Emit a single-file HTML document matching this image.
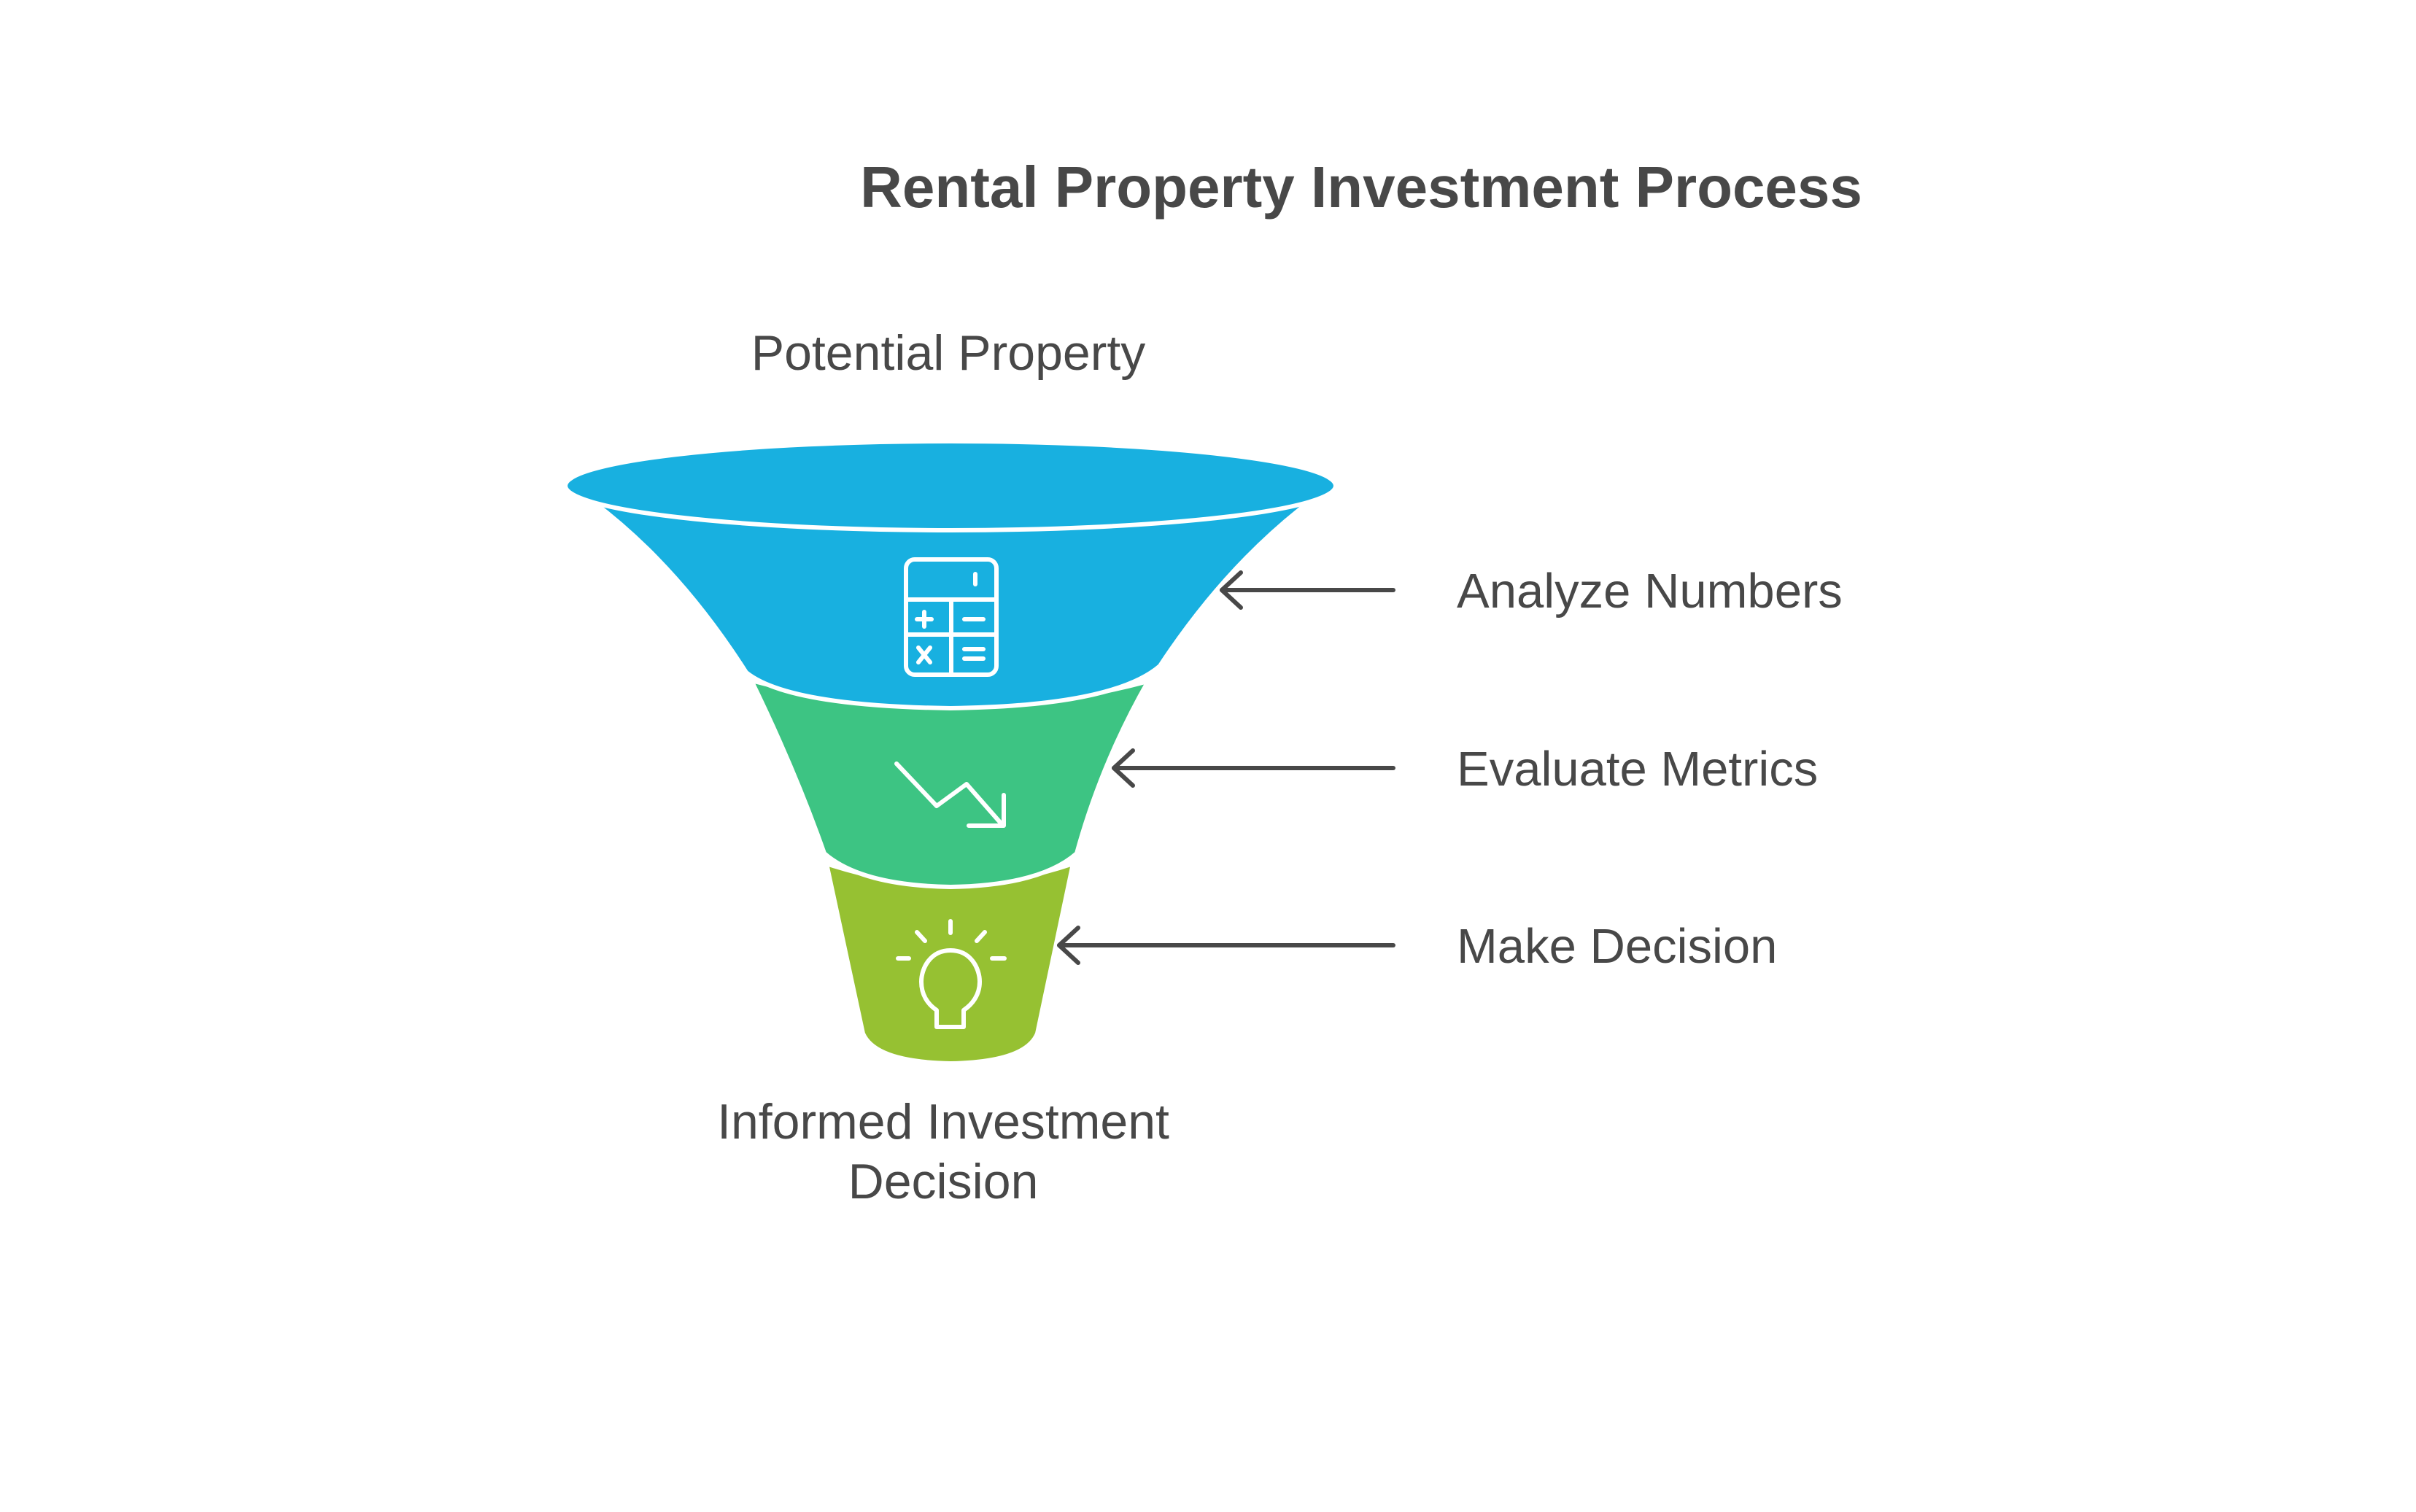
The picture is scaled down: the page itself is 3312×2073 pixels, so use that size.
<!DOCTYPE html>
<html><head><meta charset="utf-8"><style>
html,body{margin:0;padding:0;background:#fff}
svg{display:block}
text{font-family:"Liberation Sans",sans-serif;fill:#484848}
</style></head><body>
<svg width="3312" height="2073" viewBox="0 0 3312 2073" xmlns="http://www.w3.org/2000/svg">
<rect width="3312" height="2073" fill="#fff"/>
<text x="1866" y="284" font-size="80" font-weight="bold" text-anchor="middle">Rental Property Investment Process</text>
<text x="1300" y="507" font-size="68" text-anchor="middle">Potential Property</text>
<text x="1293" y="1561" font-size="68" text-anchor="middle">Informed Investment</text>
<text x="1293" y="1643" font-size="68" text-anchor="middle">Decision</text>
<text x="1997" y="833" font-size="67">Analyze Numbers</text>
<text x="1997" y="1077" font-size="67">Evaluate Metrics</text>
<text x="1997" y="1320" font-size="67">Make Decision</text>

<g transform="translate(0,-4)">
<path d="M1133,1188 L1183,1421 Q1200,1460 1303,1462 Q1406,1460 1422,1421 L1471,1188 Q1303,1245 1133,1188 Z" fill="#96c132" stroke="#fff" stroke-width="6"/>
<path d="M1030,937 Q1090,1060 1130,1174 Q1180,1218 1303,1220 Q1426,1218 1476,1174 Q1510,1050 1574,938 Q1303,1010 1030,937 Z" fill="#3dc483" stroke="#fff" stroke-width="6"/>
<path d="M813,692 Q930,780 1023,926 Q1080,972 1303,975 Q1526,972 1590,917 Q1680,780 1795,692 Z" fill="#18b0e0" stroke="#fff" stroke-width="6"/>
<ellipse cx="1303" cy="670" rx="528" ry="61" fill="#18b0e0" stroke="#fff" stroke-width="6"/>

<g stroke="#fff" stroke-width="6" fill="none" stroke-linecap="round" stroke-linejoin="round">
<rect x="1242" y="771" width="124" height="158" rx="12"/>
<line x1="1242" y1="826" x2="1366" y2="826"/>
<line x1="1242" y1="874" x2="1366" y2="874"/>
<line x1="1304" y1="826" x2="1304" y2="929"/>
<line x1="1337" y1="791" x2="1337" y2="805"/>
<line x1="1257" y1="853" x2="1277" y2="853"/><line x1="1267" y1="843" x2="1267" y2="863"/>
<line x1="1322" y1="853" x2="1348" y2="853"/>
<line x1="1259" y1="892" x2="1275" y2="912"/><line x1="1275" y1="892" x2="1259" y2="912"/>
<line x1="1322" y1="894" x2="1348" y2="894"/><line x1="1322" y1="907" x2="1348" y2="907"/>
<polyline points="1229,1051 1284,1109 1325,1079 1375,1136"/>
<polyline points="1376,1094 1376,1136 1328,1136"/>
<path d="M1303,1307 C1275,1307 1263,1332 1263,1350 C1263,1368 1272,1381 1284,1389 L1284,1412 L1321,1412 L1321,1389 C1333,1381 1343,1368 1343,1350 C1343,1332 1331,1307 1303,1307 Z"/>
<line x1="1303" y1="1267" x2="1303" y2="1283"/>
<line x1="1257" y1="1282" x2="1268" y2="1294"/>
<line x1="1350" y1="1282" x2="1339" y2="1294"/>
<line x1="1231" y1="1318" x2="1246" y2="1318"/>
<line x1="1360" y1="1318" x2="1377" y2="1318"/>
</g>
</g>

<g stroke="#484848" stroke-width="6" fill="none" stroke-linecap="round" stroke-linejoin="round">
<line x1="1675" y1="809" x2="1910" y2="809"/><polyline points="1701,785 1675,809 1701,833"/>
<line x1="1527" y1="1053" x2="1910" y2="1053"/><polyline points="1553,1029 1527,1053 1553,1077"/>
<line x1="1452" y1="1296" x2="1910" y2="1296"/><polyline points="1478,1272 1452,1296 1478,1320"/>
</g>
</svg>
</body></html>
